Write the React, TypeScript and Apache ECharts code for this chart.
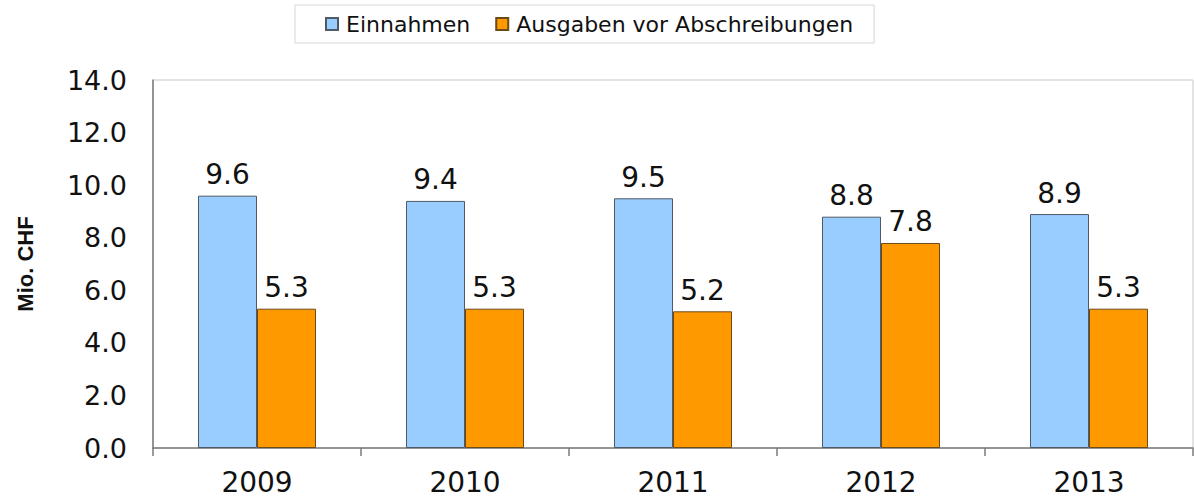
import React, { useEffect, useRef } from "react";
import * as echarts from "echarts";

const categories = ["2009", "2010", "2011", "2012", "2013"];
const einnahmen = [9.6, 9.4, 9.5, 8.8, 8.9];
const ausgaben = [5.3, 5.3, 5.2, 7.8, 5.3];
const seriesNames = ["Einnahmen", "Ausgaben vor Abschreibungen"];
const yAxisName = "Mio. CHF";

const FONT = "DejaVu Sans";

export default function App() {
  const ref = useRef<HTMLDivElement>(null);
  useEffect(() => {
    if (!ref.current) return;
    const chart = echarts.init(ref.current, undefined, { renderer: "svg" });
    const labelStyle = {
      show: true,
      position: "top" as const,
      distance: 7,
      fontFamily: FONT,
      fontSize: 28,
      color: "#111",
      formatter: (p: any) => Number(p.value).toFixed(1),
    };
    chart.setOption({
      animation: false,
      backgroundColor: "#fff",
      legend: {
        left: 295,
        top: 5,
        padding: [8, 21, 8, 30],
        borderColor: "#d6d6d6",
        borderWidth: 1,
        itemWidth: 12,
        itemHeight: 12,
        itemGap: 25,
        icon: "rect",
        textStyle: {
          fontFamily: FONT,
          fontSize: 22,
          color: "#111",
          padding: [0, 0, 0, 3],
        },
        data: seriesNames,
      },
      grid: {
        left: 153,
        right: 1,
        top: 80,
        bottom: 54,
        show: true,
        borderColor: "#c8c8c8",
        borderWidth: 1,
        backgroundColor: "transparent",
      },
      xAxis: {
        type: "category",
        data: categories,
        axisLine: { show: true, lineStyle: { color: "#7a7a7a", width: 1.5 } },
        axisTick: { show: true, length: 8, lineStyle: { color: "#7a7a7a", width: 1.5 } },
        axisLabel: {
          margin: 20,
          fontFamily: FONT,
          fontSize: 28,
          color: "#111",
        },
        splitLine: { show: false },
      },
      yAxis: {
        type: "value",
        min: 0,
        max: 14,
        interval: 2,
        name: yAxisName,
        nameLocation: "middle",
        nameRotate: 90,
        nameGap: 117,
        nameTextStyle: {
          fontFamily: "Liberation Sans",
          fontWeight: "bold",
          fontSize: 22,
          color: "#111",
        },
        axisLine: { show: true, lineStyle: { color: "#7a7a7a", width: 1.5 } },
        axisTick: { show: false },
        axisLabel: {
          margin: 26,
          fontFamily: FONT,
          fontSize: 27,
          color: "#111",
          formatter: (v: number) => v.toFixed(1),
        },
        splitLine: { show: false },
      },
      series: [
        {
          name: seriesNames[0],
          type: "bar",
          data: einnahmen,
          barWidth: 59,
          barGap: "0%",
          itemStyle: { color: "#99CCFF", borderColor: "#4f5a66", borderWidth: 1 },
          label: labelStyle,
        },
        {
          name: seriesNames[1],
          type: "bar",
          data: ausgaben,
          barWidth: 59,
          barGap: "0%",
          itemStyle: { color: "#FF9900", borderColor: "#6b4a1a", borderWidth: 1 },
          label: labelStyle,
        },
      ],
    });
    return () => chart.dispose();
  }, []);
  return (
    <div
      ref={ref}
      style={{ position: "fixed", left: 0, top: 0, width: 1194, height: 502 }}
    />
  );
}
